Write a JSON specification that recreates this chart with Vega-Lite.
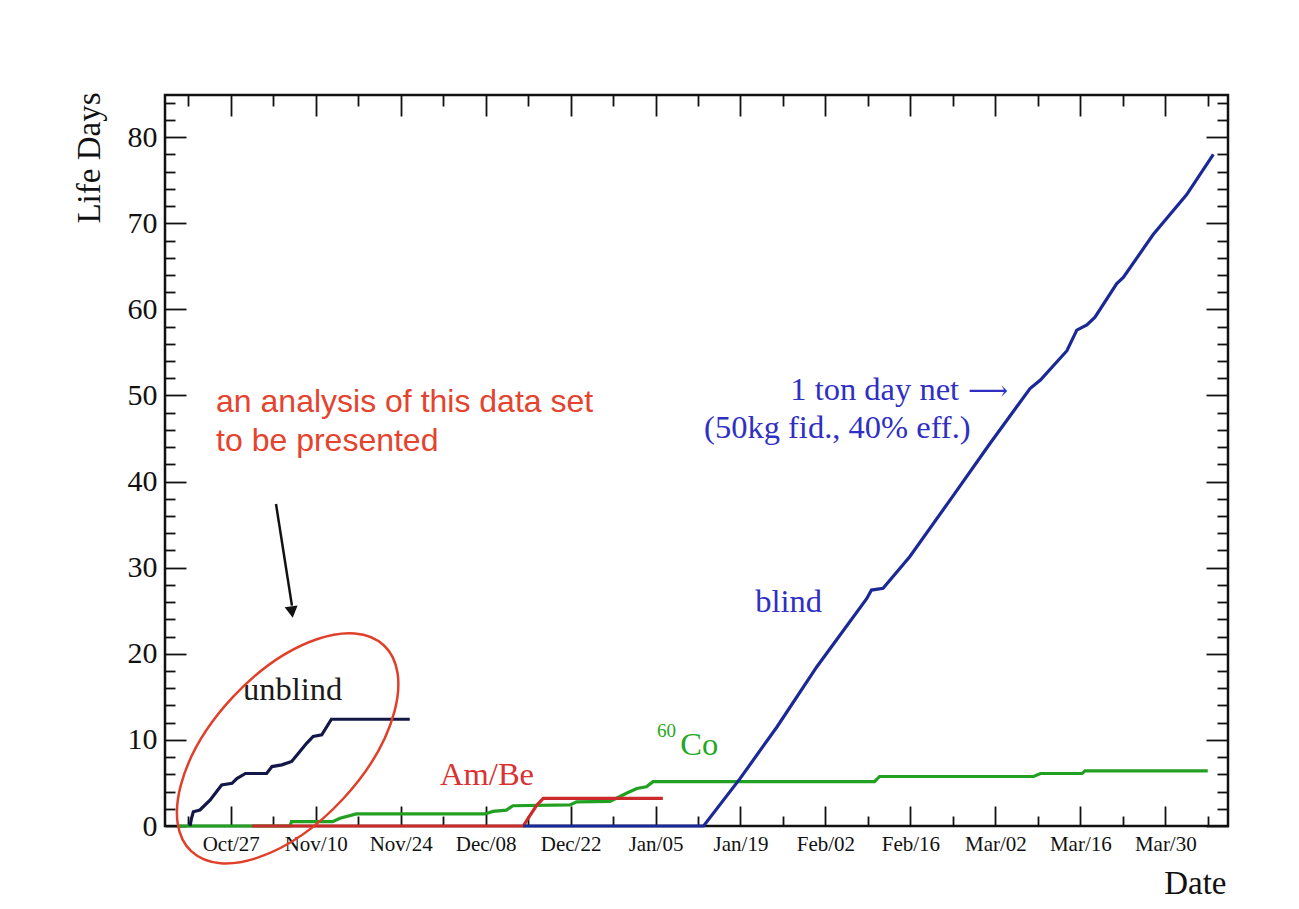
{
  "$schema": "https://vega.github.io/schema/vega-lite/v6.json",
  "width": 1063,
  "height": 731,
  "autosize": {"type": "none"},
  "padding": {"left": 165, "top": 95, "right": 71, "bottom": 83},
  "background": "white",
  "config": {"view": {"stroke": "#111111", "strokeWidth": 2.5}},
  "datasets": {
    "curves": [
      {"series": "Co60", "date": "2009-10-18T10:00", "days": 0},
      {"series": "Co60", "date": "2009-11-05T19:00", "days": 0},
      {"series": "Co60", "date": "2009-11-06T00:00", "days": 0.5},
      {"series": "Co60", "date": "2009-11-12T19:00", "days": 0.5},
      {"series": "Co60", "date": "2009-11-14T00:00", "days": 0.9},
      {"series": "Co60", "date": "2009-11-16T17:00", "days": 1.4},
      {"series": "Co60", "date": "2009-12-07T22:00", "days": 1.4},
      {"series": "Co60", "date": "2009-12-09T05:00", "days": 1.7},
      {"series": "Co60", "date": "2009-12-11T10:00", "days": 1.85},
      {"series": "Co60", "date": "2009-12-12T12:00", "days": 2.35},
      {"series": "Co60", "date": "2009-12-21T22:00", "days": 2.45},
      {"series": "Co60", "date": "2009-12-23T00:00", "days": 2.8},
      {"series": "Co60", "date": "2009-12-28T12:00", "days": 2.85},
      {"series": "Co60", "date": "2009-12-31T05:00", "days": 3.8},
      {"series": "Co60", "date": "2010-01-01T22:00", "days": 4.35},
      {"series": "Co60", "date": "2010-01-03T12:00", "days": 4.55},
      {"series": "Co60", "date": "2010-01-04T14:00", "days": 5.15},
      {"series": "Co60", "date": "2010-02-10T02:00", "days": 5.15},
      {"series": "Co60", "date": "2010-02-10T22:00", "days": 5.75},
      {"series": "Co60", "date": "2010-03-08T07:00", "days": 5.75},
      {"series": "Co60", "date": "2010-03-09T10:00", "days": 6.1},
      {"series": "Co60", "date": "2010-03-16T07:00", "days": 6.1},
      {"series": "Co60", "date": "2010-03-16T19:00", "days": 6.4},
      {"series": "Co60", "date": "2010-04-06T00:00", "days": 6.4},
      {"series": "AmBe", "date": "2009-10-30T12:00", "days": 0},
      {"series": "AmBe", "date": "2009-12-14T05:00", "days": 0},
      {"series": "AmBe", "date": "2009-12-15T00:00", "days": 0.9},
      {"series": "AmBe", "date": "2009-12-16T10:00", "days": 2.4},
      {"series": "AmBe", "date": "2009-12-17T12:00", "days": 3.2},
      {"series": "AmBe", "date": "2010-01-06T05:00", "days": 3.2},
      {"series": "blind", "date": "2009-12-14T05:00", "days": 0},
      {"series": "blind", "date": "2010-01-12T22:00", "days": 0},
      {"series": "blind", "date": "2010-01-18T22:00", "days": 5.5},
      {"series": "blind", "date": "2010-01-25T00:00", "days": 11.5},
      {"series": "blind", "date": "2010-01-31T14:00", "days": 18.5},
      {"series": "blind", "date": "2010-02-08T19:00", "days": 26.4},
      {"series": "blind", "date": "2010-02-09T14:00", "days": 27.4},
      {"series": "blind", "date": "2010-02-11T12:00", "days": 27.6},
      {"series": "blind", "date": "2010-02-15T22:00", "days": 31.3},
      {"series": "blind", "date": "2010-02-23T02:00", "days": 38.4},
      {"series": "blind", "date": "2010-03-01T02:00", "days": 44.4},
      {"series": "blind", "date": "2010-03-07T17:00", "days": 50.8},
      {"series": "blind", "date": "2010-03-09T10:00", "days": 51.8},
      {"series": "blind", "date": "2010-03-13T19:00", "days": 55.2},
      {"series": "blind", "date": "2010-03-15T10:00", "days": 57.6},
      {"series": "blind", "date": "2010-03-17T02:00", "days": 58.2},
      {"series": "blind", "date": "2010-03-18T10:00", "days": 59.1},
      {"series": "blind", "date": "2010-03-22T00:00", "days": 63.0},
      {"series": "blind", "date": "2010-03-23T02:00", "days": 63.7},
      {"series": "blind", "date": "2010-03-28T00:00", "days": 68.7},
      {"series": "blind", "date": "2010-04-02T12:00", "days": 73.3},
      {"series": "blind", "date": "2010-04-06T22:00", "days": 78.0},
      {"series": "unblind", "date": "2009-10-20T07:00", "days": 0.0},
      {"series": "unblind", "date": "2009-10-20T12:00", "days": 0.8},
      {"series": "unblind", "date": "2009-10-20T20:00", "days": 1.66},
      {"series": "unblind", "date": "2009-10-21T22:00", "days": 1.86},
      {"series": "unblind", "date": "2009-10-23T14:00", "days": 3.0},
      {"series": "unblind", "date": "2009-10-25T12:00", "days": 4.76},
      {"series": "unblind", "date": "2009-10-27T05:00", "days": 4.96},
      {"series": "unblind", "date": "2009-10-28T00:00", "days": 5.5},
      {"series": "unblind", "date": "2009-10-29T10:00", "days": 6.1},
      {"series": "unblind", "date": "2009-11-01T22:00", "days": 6.1},
      {"series": "unblind", "date": "2009-11-02T19:00", "days": 6.9},
      {"series": "unblind", "date": "2009-11-04T10:00", "days": 7.1},
      {"series": "unblind", "date": "2009-11-06T01:00", "days": 7.5},
      {"series": "unblind", "date": "2009-11-06T22:00", "days": 8.25},
      {"series": "unblind", "date": "2009-11-08T12:00", "days": 9.6},
      {"series": "unblind", "date": "2009-11-09T14:00", "days": 10.4},
      {"series": "unblind", "date": "2009-11-11T00:00", "days": 10.6},
      {"series": "unblind", "date": "2009-11-12T14:00", "days": 12.4},
      {"series": "unblind", "date": "2009-11-25T12:00", "days": 12.4}
    ],
    "notes": [
      {"kind": "unblind", "label": "unblind", "date": "2009-10-29T00:00", "days": 14.6},
      {"kind": "blind", "label": "blind", "date": "2010-01-21T10:00", "days": 24.85},
      {"kind": "AmBe", "label": "Am/Be", "date": "2009-11-30T12:00", "days": 4.76},
      {"kind": "Co60", "label": "Co", "date": "2010-01-09T02:00", "days": 8.25},
      {"kind": "blind", "label": "1 ton day net", "date": "2010-01-27T05:00", "days": 49.5},
      {"kind": "blind", "label": "(50kg fid., 40% eff.)", "date": "2010-01-13T00:00", "days": 45.1}
    ],
    "sup": [
      {"kind": "Co60", "label": "60", "date": "2010-01-05T06:00", "days": 10.3}
    ],
    "pointer": [
      {"kind": "blind", "label": "⟶", "date": "2010-02-25T12:00", "days": 49.5}
    ],
    "remark": [
      {"label": "an analysis of this data set", "date": "2009-10-24T14:00", "days": 48.1},
      {"label": "to be presented", "date": "2009-10-24T14:00", "days": 43.55}
    ],
    "arrow": [
      {"date": "2009-11-03T11:00", "days": 37.4, "date2": "2009-11-06T02:00", "days2": 25.6}
    ],
    "arrowhead": [
      {"date": "2009-11-06T02:00", "days": 24.85}
    ],
    "ellipse": [
      {"date": "2009-11-05T09:00", "days": 9.02}
    ]
  },
  "resolve": {"axis": {"x": "independent", "y": "independent"}},
  "layer": [
    {
      "data": {"name": "curves"},
      "transform": [{"filter": "datum.series === 'Co60'"}],
      "mark": {"type": "line", "color": "#22a022", "strokeWidth": 3.2},
      "encoding": {
        "x": {"field": "date", "type": "temporal",
          "scale": {"domain": [{"year": 2009, "month": "oct", "date": 16, "hours": 4}, {"year": 2010, "month": "apr", "date": 9, "hours": 8}], "nice": false},
          "axis": {"orient": "bottom", "values": [
              {"year": 2009, "month": "oct", "date": 27}, {"year": 2009, "month": "nov", "date": 10}, {"year": 2009, "month": "nov", "date": 24},
              {"year": 2009, "month": "dec", "date": 8}, {"year": 2009, "month": "dec", "date": 22}, {"year": 2010, "month": "jan", "date": 5},
              {"year": 2010, "month": "jan", "date": 19}, {"year": 2010, "month": "feb", "date": 2}, {"year": 2010, "month": "feb", "date": 16},
              {"year": 2010, "month": "mar", "date": 2}, {"year": 2010, "month": "mar", "date": 16}, {"year": 2010, "month": "mar", "date": 30}],
            "format": "%b/%d", "ticks": false, "domain": false, "grid": false,
            "labelFont": "Liberation Serif", "labelFontSize": 21, "labelColor": "#111111", "labelPadding": 7,
            "labelFlush": false, "labelOverlap": false,
            "title": "Date", "titleFont": "Liberation Serif", "titleFontSize": 33, "titleFontWeight": "normal", "titleColor": "#111111",
            "titleAnchor": "end", "titleAlign": "right", "titleBaseline": "alphabetic", "titleX": 1061, "titleY": 67}},
        "y": {"field": "days", "type": "quantitative",
          "scale": {"domain": [0, 84.9], "nice": false, "zero": false},
          "axis": {"orient": "left", "values": [0, 10, 20, 30, 40, 50, 60, 70, 80],
            "ticks": false, "domain": false, "grid": false,
            "labelFont": "Liberation Serif", "labelFontSize": 30, "labelColor": "#111111", "labelPadding": 8,
            "labelFlush": false, "labelOverlap": false,
            "title": "Life Days", "titleFont": "Liberation Serif", "titleFontSize": 33, "titleFontWeight": "normal", "titleColor": "#111111",
            "titleAngle": -90, "titleAlign": "right", "titleBaseline": "alphabetic", "titleX": -66, "titleY": -3}}
      }
    },
    {
      "data": {"name": "curves"},
      "transform": [{"filter": "datum.series === 'AmBe'"}],
      "mark": {"type": "line", "color": "#cc2b2b", "strokeWidth": 3.2},
      "encoding": {
        "x": {"field": "date", "type": "temporal",
          "scale": {"domain": [{"year": 2009, "month": "oct", "date": 16, "hours": 4}, {"year": 2010, "month": "apr", "date": 9, "hours": 8}], "nice": false},
          "axis": {"orient": "bottom", "values": [
              {"year": 2009, "month": "oct", "date": 27}, {"year": 2009, "month": "nov", "date": 10}, {"year": 2009, "month": "nov", "date": 24},
              {"year": 2009, "month": "dec", "date": 8}, {"year": 2009, "month": "dec", "date": 22}, {"year": 2010, "month": "jan", "date": 5},
              {"year": 2010, "month": "jan", "date": 19}, {"year": 2010, "month": "feb", "date": 2}, {"year": 2010, "month": "feb", "date": 16},
              {"year": 2010, "month": "mar", "date": 2}, {"year": 2010, "month": "mar", "date": 16}, {"year": 2010, "month": "mar", "date": 30}],
            "labels": false, "domain": false, "grid": false, "ticks": true, "tickSize": -20, "tickWidth": 1.8, "tickColor": "#111111", "title": null}},
        "y": {"field": "days", "type": "quantitative",
          "scale": {"domain": [0, 84.9], "nice": false, "zero": false},
          "axis": {"orient": "left", "values": [0, 10, 20, 30, 40, 50, 60, 70, 80],
            "labels": false, "domain": false, "grid": false, "ticks": true, "tickSize": -21, "tickWidth": 1.8, "tickColor": "#111111", "title": null}}
      }
    },
    {
      "data": {"name": "curves"},
      "transform": [{"filter": "datum.series === 'blind'"}],
      "mark": {"type": "line", "color": "#1a2996", "strokeWidth": 3.2},
      "encoding": {
        "x": {"field": "date", "type": "temporal",
          "scale": {"domain": [{"year": 2009, "month": "oct", "date": 16, "hours": 4}, {"year": 2010, "month": "apr", "date": 9, "hours": 8}], "nice": false},
          "axis": {"orient": "bottom", "values": [
              {"year": 2009, "month": "oct", "date": 20}, {"year": 2009, "month": "nov", "date": 3}, {"year": 2009, "month": "nov", "date": 17},
              {"year": 2009, "month": "dec", "date": 1}, {"year": 2009, "month": "dec", "date": 15}, {"year": 2009, "month": "dec", "date": 29},
              {"year": 2010, "month": "jan", "date": 12}, {"year": 2010, "month": "jan", "date": 26}, {"year": 2010, "month": "feb", "date": 9},
              {"year": 2010, "month": "feb", "date": 23}, {"year": 2010, "month": "mar", "date": 9}, {"year": 2010, "month": "mar", "date": 23},
              {"year": 2010, "month": "apr", "date": 6}],
            "labels": false, "domain": false, "grid": false, "ticks": true, "tickSize": -10, "tickWidth": 1.8, "tickColor": "#111111", "title": null}},
        "y": {"field": "days", "type": "quantitative",
          "scale": {"domain": [0, 84.9], "nice": false, "zero": false},
          "axis": {"orient": "left", "values": [2, 4, 6, 8, 12, 14, 16, 18, 22, 24, 26, 28, 32, 34, 36, 38, 42, 44, 46, 48, 52, 54, 56, 58, 62, 64, 66, 68, 72, 74, 76, 78, 82, 84],
            "labels": false, "domain": false, "grid": false, "ticks": true, "tickSize": -10, "tickWidth": 1.8, "tickColor": "#111111", "title": null}}
      }
    },
    {
      "data": {"name": "curves"},
      "transform": [{"filter": "datum.series === 'unblind'"}],
      "mark": {"type": "line", "color": "#141848", "strokeWidth": 3.2},
      "encoding": {
        "x": {"field": "date", "type": "temporal",
          "scale": {"domain": [{"year": 2009, "month": "oct", "date": 16, "hours": 4}, {"year": 2010, "month": "apr", "date": 9, "hours": 8}], "nice": false},
          "axis": {"orient": "top", "values": [
              {"year": 2009, "month": "oct", "date": 27}, {"year": 2009, "month": "nov", "date": 10}, {"year": 2009, "month": "nov", "date": 24},
              {"year": 2009, "month": "dec", "date": 8}, {"year": 2009, "month": "dec", "date": 22}, {"year": 2010, "month": "jan", "date": 5},
              {"year": 2010, "month": "jan", "date": 19}, {"year": 2010, "month": "feb", "date": 2}, {"year": 2010, "month": "feb", "date": 16},
              {"year": 2010, "month": "mar", "date": 2}, {"year": 2010, "month": "mar", "date": 16}, {"year": 2010, "month": "mar", "date": 30}],
            "labels": false, "domain": false, "grid": false, "ticks": true, "tickSize": -21, "tickWidth": 1.8, "tickColor": "#111111", "title": null}},
        "y": {"field": "days", "type": "quantitative",
          "scale": {"domain": [0, 84.9], "nice": false, "zero": false},
          "axis": {"orient": "right", "values": [0, 10, 20, 30, 40, 50, 60, 70, 80],
            "labels": false, "domain": false, "grid": false, "ticks": true, "tickSize": -22, "tickWidth": 1.8, "tickColor": "#111111", "title": null}}
      }
    },
    {
      "data": {"name": "notes"},
      "mark": {"type": "text", "font": "Liberation Serif", "fontSize": 32.5, "align": "left", "baseline": "alphabetic"},
      "encoding": {
        "x": {"field": "date", "type": "temporal",
          "scale": {"domain": [{"year": 2009, "month": "oct", "date": 16, "hours": 4}, {"year": 2010, "month": "apr", "date": 9, "hours": 8}], "nice": false},
          "axis": {"orient": "top", "values": [
              {"year": 2009, "month": "oct", "date": 20}, {"year": 2009, "month": "nov", "date": 3}, {"year": 2009, "month": "nov", "date": 17},
              {"year": 2009, "month": "dec", "date": 1}, {"year": 2009, "month": "dec", "date": 15}, {"year": 2009, "month": "dec", "date": 29},
              {"year": 2010, "month": "jan", "date": 12}, {"year": 2010, "month": "jan", "date": 26}, {"year": 2010, "month": "feb", "date": 9},
              {"year": 2010, "month": "feb", "date": 23}, {"year": 2010, "month": "mar", "date": 9}, {"year": 2010, "month": "mar", "date": 23},
              {"year": 2010, "month": "apr", "date": 6}],
            "labels": false, "domain": false, "grid": false, "ticks": true, "tickSize": -11, "tickWidth": 1.8, "tickColor": "#111111", "title": null}},
        "y": {"field": "days", "type": "quantitative",
          "scale": {"domain": [0, 84.9], "nice": false, "zero": false},
          "axis": {"orient": "right", "values": [2, 4, 6, 8, 12, 14, 16, 18, 22, 24, 26, 28, 32, 34, 36, 38, 42, 44, 46, 48, 52, 54, 56, 58, 62, 64, 66, 68, 72, 74, 76, 78, 82, 84],
            "labels": false, "domain": false, "grid": false, "ticks": true, "tickSize": -11, "tickWidth": 1.8, "tickColor": "#111111", "title": null}},
        "text": {"field": "label"},
        "color": {"field": "kind", "type": "nominal", "legend": null,
          "scale": {"domain": ["unblind", "blind", "AmBe", "Co60"], "range": ["#1a1a1a", "#2f2fc4", "#d83232", "#24a824"]}}
      }
    },
    {
      "data": {"name": "pointer"},
      "mark": {"type": "text", "font": "DejaVu Serif", "fontSize": 28, "align": "left", "baseline": "alphabetic", "color": "#2f2fc4"},
      "encoding": {
        "x": {"field": "date", "type": "temporal", "axis": null,
          "scale": {"domain": [{"year": 2009, "month": "oct", "date": 16, "hours": 4}, {"year": 2010, "month": "apr", "date": 9, "hours": 8}], "nice": false}},
        "y": {"field": "days", "type": "quantitative", "axis": null, "scale": {"domain": [0, 84.9], "nice": false, "zero": false}},
        "text": {"field": "label"}
      }
    },
    {
      "data": {"name": "sup"},
      "mark": {"type": "text", "font": "Liberation Serif", "fontSize": 19, "align": "left", "baseline": "alphabetic", "color": "#24a824"},
      "encoding": {
        "x": {"field": "date", "type": "temporal", "axis": null,
          "scale": {"domain": [{"year": 2009, "month": "oct", "date": 16, "hours": 4}, {"year": 2010, "month": "apr", "date": 9, "hours": 8}], "nice": false}},
        "y": {"field": "days", "type": "quantitative", "axis": null, "scale": {"domain": [0, 84.9], "nice": false, "zero": false}},
        "text": {"field": "label"}
      }
    },
    {
      "data": {"name": "remark"},
      "mark": {"type": "text", "font": "Liberation Sans", "fontSize": 32, "align": "left", "baseline": "alphabetic", "color": "#e4432e"},
      "encoding": {
        "x": {"field": "date", "type": "temporal", "axis": null,
          "scale": {"domain": [{"year": 2009, "month": "oct", "date": 16, "hours": 4}, {"year": 2010, "month": "apr", "date": 9, "hours": 8}], "nice": false}},
        "y": {"field": "days", "type": "quantitative", "axis": null, "scale": {"domain": [0, 84.9], "nice": false, "zero": false}},
        "text": {"field": "label"}
      }
    },
    {
      "data": {"name": "arrow"},
      "mark": {"type": "rule", "color": "#111111", "strokeWidth": 2.5},
      "encoding": {
        "x": {"field": "date", "type": "temporal", "axis": null,
          "scale": {"domain": [{"year": 2009, "month": "oct", "date": 16, "hours": 4}, {"year": 2010, "month": "apr", "date": 9, "hours": 8}], "nice": false}},
        "y": {"field": "days", "type": "quantitative", "axis": null, "scale": {"domain": [0, 84.9], "nice": false, "zero": false}},
        "x2": {"field": "date2"},
        "y2": {"field": "days2"}
      }
    },
    {
      "data": {"name": "arrowhead"},
      "mark": {"type": "point", "shape": "triangle-down", "size": 170, "filled": true, "color": "#111111", "opacity": 1, "angle": -8},
      "encoding": {
        "x": {"field": "date", "type": "temporal", "axis": null,
          "scale": {"domain": [{"year": 2009, "month": "oct", "date": 16, "hours": 4}, {"year": 2010, "month": "apr", "date": 9, "hours": 8}], "nice": false}},
        "y": {"field": "days", "type": "quantitative", "axis": null, "scale": {"domain": [0, 84.9], "nice": false, "zero": false}}
      }
    },
    {
      "data": {"name": "ellipse"},
      "mark": {"type": "point", "shape": "M1,0C1,0.2938,0.5523,0.532,0,0.532C-0.5523,0.532,-1,0.2938,-1,0C-1,-0.2938,-0.5523,-0.532,0,-0.532C0.5523,-0.532,1,-0.2938,1,0Z", "size": 79524, "filled": false, "stroke": "#e0402a", "strokeWidth": 2.5, "opacity": 1, "angle": -47},
      "encoding": {
        "x": {"field": "date", "type": "temporal", "axis": null,
          "scale": {"domain": [{"year": 2009, "month": "oct", "date": 16, "hours": 4}, {"year": 2010, "month": "apr", "date": 9, "hours": 8}], "nice": false}},
        "y": {"field": "days", "type": "quantitative", "axis": null, "scale": {"domain": [0, 84.9], "nice": false, "zero": false}}
      }
    }
  ]
}
